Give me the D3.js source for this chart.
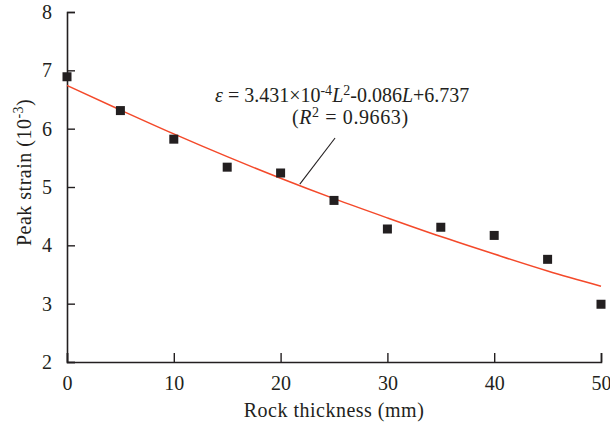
<!DOCTYPE html>
<html>
<head>
<meta charset="utf-8">
<script src="https://cdn.jsdelivr.net/npm/d3@7"></script>
<style>
  body { margin: 0; background: #fff; }
  svg text { font-family: "Liberation Serif", "Times New Roman", serif; fill: #231f20; }
</style>
</head>
<body>
<svg id="chart" width="610" height="426"></svg>
<script>
// measured points
let thickness = [0, 5, 10, 15, 20, 25, 30, 35, 40, 45, 50];
let peakStrain = [6.89, 6.31, 5.82, 5.34, 5.24, 4.77, 4.28, 4.31, 4.17, 3.76, 2.99];

// fitted curve, every 5 mm
let fitThickness = [0, 5, 10, 15, 20, 25, 30, 35, 40, 45, 50];
let fitStrain = [6.74, 6.32, 5.91, 5.52, 5.15, 4.80, 4.47, 4.15, 3.85, 3.56, 3.30];

let xTicks = [0, 10, 20, 30, 40, 50];
let yTicks = [2, 3, 4, 5, 6, 7, 8];

let chart = function () {
    let svg = d3.select("#chart"),
        margin = {top: 12, right: 9, bottom: 64, left: 67},
        width = +svg.attr("width"),
        height = +svg.attr("height");

    let x = d3.scaleLinear()
        .domain([0, 50])
        .range([margin.left, width - margin.right]);

    let y = d3.scaleLinear()
        .domain([2, 8])
        .range([height - margin.bottom, margin.top]);

    let ink = "#231f20";

    // axes: ticks point inward, minor ticks half way
    let xAxis = d3.axisBottom(x).tickValues(xTicks).tickSize(-9).tickPadding(14).tickFormat(d3.format("d"));
    let xMinor = d3.axisBottom(x).tickValues(d3.range(5, 50, 10)).tickSize(-4).tickFormat("");
    let yAxis = d3.axisLeft(y).tickValues(yTicks).tickSize(-8).tickPadding(15).tickFormat(d3.format("d"));
    let yMinor = d3.axisLeft(y).tickValues(d3.range(2.5, 8, 1)).tickSize(-4).tickFormat("");

    let gx = svg.append("g").attr("transform", "translate(0," + y(2) + ")");
    gx.call(xMinor);
    gx.call(xAxis);
    let gy = svg.append("g").attr("transform", "translate(" + x(0) + ",0)");
    gy.call(yMinor);
    gy.call(yAxis);

    svg.selectAll(".domain").attr("stroke", ink).attr("stroke-width", 1.6);
    svg.selectAll(".tick line").attr("stroke", ink).attr("stroke-width", 1.4);
    svg.selectAll(".tick text")
        .style("font-size", "20px")
        .attr("fill", ink);
    gx.selectAll(".tick text").attr("dy", "0.71em");

    // fit curve
    let line = d3.line()
        .x((d, i) => x(fitThickness[i]))
        .y(d => y(d))
        .curve(d3.curveMonotoneX);

    svg.append("path")
        .datum(fitStrain)
        .attr("d", line)
        .attr("fill", "none")
        .attr("stroke", "#f4492a")
        .attr("stroke-width", 1.5);

    // points
    let s = 9;
    svg.selectAll("rect.pt")
        .data(thickness)
        .enter()
        .append("rect")
        .attr("class", "pt")
        .attr("x", d => x(d) - s / 2)
        .attr("y", (d, i) => y(peakStrain[i]) - s / 2)
        .attr("width", s)
        .attr("height", s)
        .attr("fill", ink);

    // leader line from label to curve
    svg.append("line")
        .attr("x1", x(25.1)).attr("y1", y(5.84))
        .attr("x2", x(21.8)).attr("y2", y(5.05))
        .attr("stroke", ink)
        .attr("stroke-width", 1.1);

    // equation label
    let eq = svg.append("text")
        .attr("x", 215)
        .attr("y", 102)
        .style("font-size", "20px");
    eq.append("tspan").style("font-style", "italic").text("ε");
    eq.append("tspan").text(" = 3.431×10");
    eq.append("tspan").attr("dy", -7).style("font-size", "14px").text("-4");
    eq.append("tspan").attr("dy", 7).style("font-style", "italic").text("L");
    eq.append("tspan").attr("dy", -7).style("font-size", "14px").text("2");
    eq.append("tspan").attr("dy", 7).text("-0.086");
    eq.append("tspan").style("font-style", "italic").text("L");
    eq.append("tspan").text("+6.737");

    let r2 = svg.append("text")
        .attr("x", 292)
        .attr("y", 124)
        .style("font-size", "20px")
        .style("letter-spacing", "0.6px");
    r2.append("tspan").text("(");
    r2.append("tspan").style("font-style", "italic").text("R");
    r2.append("tspan").attr("dy", -7).style("font-size", "14px").text("2");
    r2.append("tspan").attr("dy", 7).text(" = 0.9663)");

    // axis titles
    svg.append("text")
        .attr("x", x(25))
        .attr("y", 417)
        .attr("text-anchor", "middle")
        .style("font-size", "20px")
        .style("letter-spacing", "0.5px")
        .text("Rock thickness (mm)");

    let yt = svg.append("text")
        .attr("transform", "translate(31," + y(5.25) + ") rotate(-90)")
        .attr("text-anchor", "middle")
        .style("font-size", "20px")
        .style("letter-spacing", "0.5px");
    yt.append("tspan").text("Peak strain (10");
    yt.append("tspan").attr("dy", -8).style("font-size", "14px").text("-3");
    yt.append("tspan").attr("dy", 8).text(")");
}();
</script>
</body>
</html>
